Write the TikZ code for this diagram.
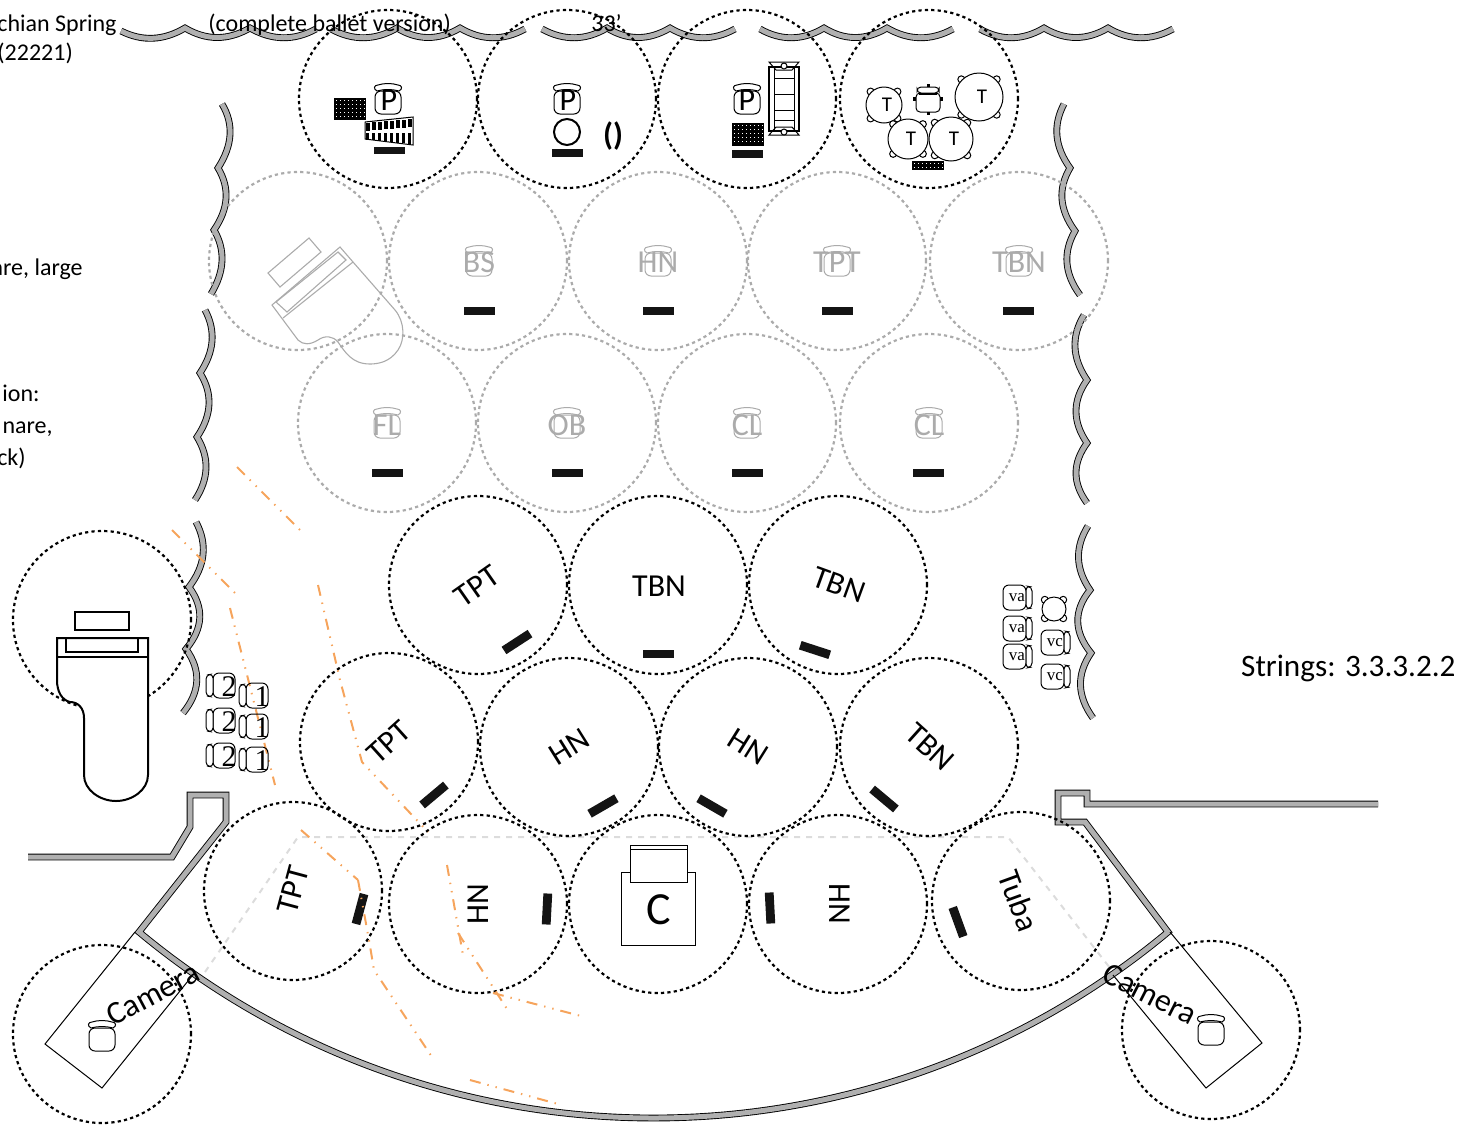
\documentclass[tikz,border=0pt]{standalone}
\usepackage{fontspec}
\setmainfont{Carlito}
\newfontfamily\chairfont{Liberation Serif}
\definecolor{wallgray}{HTML}{B0B0B0}
\definecolor{ghost}{HTML}{ABABAB}
\definecolor{cueline}{HTML}{F6A45C}
\definecolor{sight}{HTML}{DCDCDC}
\newcommand\qarc[6]{.. controls ({#1+2/3*(#3-#1)},{#2+2/3*(#4-#2)}) and ({#5+2/3*(#3-#5)},{#6+2/3*(#4-#6)}) .. (#5,#6)}
\newcommand\jar[4]{%
 \begin{scope}[shift={(#1,#2)},scale=#3,line width=.5pt]
 \draw[#4,rounded corners=3pt] (-13,-8) -- (13,-8) -- (13,15) -- (-13,15) -- cycle;
 \draw[#4,fill=white] (-11,-8) .. controls (-15,-10) and (-14,-14) .. (-10,-14) .. controls (-4,-16) and (4,-16) .. (10,-14) .. controls (14,-14) and (15,-10) .. (11,-8) .. controls (4,-10) and (-4,-10) .. (-11,-8) -- cycle;
 \end{scope}}
\newcommand\gridblock[4]{%
 \fill[black] (#1,#2) rectangle ++(#3,#4);
 \pgfmathtruncatemacro\gw{#3/4-1}\pgfmathtruncatemacro\gh{#4/4-1}
 \foreach \i in {0,...,\gw}{\foreach \j in {0,...,\gh}{\fill[white] (#1+\i*4+1.5,#2+\j*4+1.5) rectangle ++(1.7,1.7);}}}
\newcommand\chairL[4]{% name,x,y,label (back on the left)
 \draw[chairline,rounded corners=3pt] (#2-8,#3-13) -- (#2+14,#3-13) -- (#2+14,#3+12) -- (#2-8,#3+12) -- cycle;
 \draw[chairline,fill=white,rounded corners=2pt] (#2-15,#3-11) -- (#2-8,#3-12) -- (#2-8,#3+11) -- (#2-15,#3+10) -- cycle;
 \node[chairnum] (#1) at (#2+8,#3+1) {#4};}
\newcommand\chairR[4]{% name,x,y,label (back on the right)
 \draw[chairline,rounded corners=3pt] (#2-14,#3-13) -- (#2+9,#3-13) -- (#2+9,#3+12) -- (#2-14,#3+12) -- cycle;
 \draw[chairline,fill=white,rounded corners=2pt] (#2+9,#3-12) -- (#2+15,#3-11) -- (#2+15,#3+10) -- (#2+9,#3+11) -- cycle;
 \node[chairsm] (#1) at (#2,#3) {#4};}
\newcommand\timp[5]{% name,x,y,r,label
 \foreach \a in {45,135,225,315}{\draw[line width=.5pt,fill=white] (#2,#3) ++(\a:#4+1) circle (3.5);}
 \node[timpdrum,minimum size=#4*1pt] (#1) at (#2,#3) {};
 \node[timplabel] (#1t) at (#2+3,#3) {#5};}
\tikzset{
 seat/.style={circle,draw=black,line width=1.1pt,dash pattern=on 1.6pt off 1.6pt,minimum size=89pt,inner sep=0pt},
 ghostseat/.style={seat,draw=ghost},
 wall/.style={draw=black,line width=.45pt,double=wallgray,double distance=2.5pt,miter limit=6},
 stand/.style={rectangle,fill=black!92,minimum width=15.5pt,minimum height=4.4pt,inner sep=0pt},
 partlabel/.style={font=\fontsize{16}{16}\selectfont,inner sep=0pt},
 ghostlabel/.style={partlabel,text=ghost},
 note/.style={font=\fontsize{12}{12}\selectfont,inner sep=0pt},
 chairline/.style={draw=black,line width=.5pt},
 chairnum/.style={font=\chairfont\fontsize{15}{15}\selectfont,inner sep=0pt},
 chairsm/.style={font=\chairfont\fontsize{8.5}{8.5}\selectfont,inner sep=0pt},
 timpdrum/.style={circle,draw=black,line width=.5pt,fill=white,inner sep=0pt},
 timplabel/.style={inner sep=0pt,font=\fontsize{10.5}{10.5}\selectfont},
 cue/.style={draw=cueline,line width=1pt,dash pattern=on 5.5pt off 3.5pt on .7pt off 3.5pt on .7pt off 3.5pt},
 sightline/.style={draw=sight,line width=1pt,dashed},
 outline/.style={draw=black,line width=.5pt},
 pianoline/.style={draw=black,line width=1pt,fill=white},
 ghostpiano/.style={draw=ghost,line width=.55pt,fill=none},
}
\begin{document}
\begin{tikzpicture}[x=0.5pt,y=-0.5pt]
\useasboundingbox (0,0) rectangle (1462,1126);
% riser walls, top
\draw[wall] (121,31) \qarc{121}{31}{153}{47}{185}{28} \qarc{185}{28}{217}{47}{250}{28} \qarc{250}{28}{283}{47}{316}{29};
\draw[wall] (331,29) \qarc{331}{29}{364}{47}{397}{28} \qarc{397}{28}{428}{47}{460}{28} \qarc{460}{28}{492}{47}{525}{29};
\draw[wall] (542,29) \qarc{542}{29}{575}{47}{607}{28} \qarc{607}{28}{638}{47}{670}{28} \qarc{670}{28}{702}{47}{735}{29};
\draw[wall] (760,29) \qarc{760}{29}{792}{47}{824}{28} \qarc{824}{28}{855}{47}{887}{28} \qarc{887}{28}{920}{47}{953}{29};
\draw[wall] (980,29) \qarc{980}{29}{1012}{47}{1044}{28} \qarc{1044}{28}{1076}{47}{1108}{28} \qarc{1108}{28}{1140}{47}{1173}{29};
% riser walls, left
\draw[wall] (222,104) \qarc{222}{104}{240}{134}{218}{168} \qarc{218}{168}{236}{198}{214}{230} \qarc{214}{230}{231.5}{260}{211}{294};
\draw[wall] (205,310) \qarc{205}{310}{221.5}{341}{200}{373} \qarc{200}{373}{219.5}{404}{197}{437} \qarc{197}{437}{216}{468}{195}{500};
\draw[wall] (196,522) \qarc{196}{522}{213.5}{555}{189}{587} \qarc{189}{587}{212}{618}{186}{649} \qarc{186}{649}{209}{681}{183}{713};
% riser walls, right
\draw[wall] (1064,104) \qarc{1064}{104}{1047}{136}{1070}{168} \qarc{1070}{168}{1051.5}{199}{1075}{231} \qarc{1075}{231}{1056.5}{263}{1080}{295};
\draw[wall] (1084,315) \qarc{1084}{315}{1064.5}{347}{1087}{380} \qarc{1087}{380}{1065}{411}{1087}{443} \qarc{1087}{443}{1065}{473}{1087}{503};
\draw[wall] (1088,526) \qarc{1088}{526}{1068}{558}{1090}{590} \qarc{1090}{590}{1065}{621}{1091}{653} \qarc{1091}{653}{1069}{685}{1093}{718};
% stage edge
\draw[wall,miter limit=10] (28,857) -- (172,857) -- (190,827) -- (190,795) -- (226,795) -- (226,822) -- (139,932) .. controls (283,1052) and (465.5,1118) .. (653.5,1118) .. controls (841.5,1118) and (1024,1052) .. (1168,932) -- (1085,822) -- (1058,822) -- (1058,793) -- (1087,793) -- (1087,804) -- (1378,804);
% sight lines
\draw[sightline] (205,972) -- (298,837) -- (1008,837) -- (1110,968);
% seat circles
\node[seat] (s01) at (388,99) {};
\node[seat] (s02) at (567,99) {};
\node[seat] (s03) at (747,99) {};
\node[seat] (s04) at (929,99) {};
\node[ghostseat] (g11) at (298,261) {};
\node[ghostseat] (g12) at (478,261) {};
\node[ghostseat] (g13) at (658,261) {};
\node[ghostseat] (g14) at (837,261) {};
\node[ghostseat] (g15) at (1019,261) {};
\node[ghostseat] (g21) at (387,423) {};
\node[ghostseat] (g22) at (567,423) {};
\node[ghostseat] (g23) at (747,423) {};
\node[ghostseat] (g24) at (929,423) {};
\node[seat] (s31) at (478,585) {};
\node[seat] (s32) at (658,585) {};
\node[seat] (s33) at (838,585) {};
\node[seat] (s41) at (389,742) {};
\node[seat] (s42) at (569,747) {};
\node[seat] (s43) at (748,747) {};
\node[seat] (s44) at (929,747) {};
\node[seat] (s51) at (293,891) {};
\node[seat] (s52) at (478,904) {};
\node[seat] (s53) at (658,904) {};
\node[seat] (s54) at (838,904) {};
\node[seat] (s55) at (1021,901) {};
\node[seat] (camL) at (102,1034) {};
\node[seat] (camR) at (1211,1030) {};
\node[seat] (pno) at (102,620) {};
% camera platforms
\draw[outline] (135,932) -- (45,1044) -- (102,1088) -- (192,976);
\draw[outline] (1170,932) -- (1262,1043) -- (1206,1088) -- (1113,975);
\jar{102}{1036}{1}{black}
\jar{1211}{1030}{1}{black}
% black piano
\draw[pianoline] (57,638) -- (148,638) -- (148,775) .. controls (148,790) and (132,801) .. (116,801) .. controls (100,801) and (84,790) .. (84,775) -- (84,718) .. controls (84,708) and (78,702) .. (70,702) .. controls (62,700) and (57,692) .. (57,680) -- cycle;
\draw[black,line width=1pt] (57,657) -- (148,657);
\draw[black,line width=.8pt] (66,638) -- (66,652) -- (138,652) -- (138,638);
\draw[black,line width=1pt] (75,612) rectangle (129,630);
% grey piano
\draw[ghostpiano] (268,273) -- (309,238) -- (321,252) -- (280,287) -- cycle;
\draw[ghostpiano] (272,305) -- (340,247) -- (353,262) -- (395,310) .. controls (405,322) and (405,340) .. (398,350) .. controls (390,362) and (378,364) .. (370,364) .. controls (352,364) and (345,352) .. (338,342) .. controls (333,336) and (325,335) .. (318,340) .. controls (310,345) and (303,345) .. (298,340) -- cycle;
\draw[ghostpiano] (276,302) -- (338,252) -- (346,260) -- (287,312) -- cycle;
\draw[ghostpiano] (283,318) -- (353,262);
% row 0: percussion
\gridblock{334}{98}{32}{22}
\draw[black,line width=.5pt,fill=white] (365,122) -- (413,117) -- (413,145) -- (365,139) -- cycle;
\foreach \i in {0,...,7}{\fill[black] (366+\i*6,122.5-\i*.5) rectangle ++(4.4,8); \fill[black] (366+\i*6,133) rectangle ++(3.4,6.5+\i*.6);}
\jar{388}{99}{1}{black}
\node[partlabel] (p1) at (389,100) {P};
\node[stand,minimum height=3.5pt] (b01) at (389,150) {};
\jar{567}{99}{1}{black}
\node[partlabel] (p2) at (568,100) {P};
\draw[black,line width=1pt] (567,132) circle (13);
\node[stand] (b02) at (567,153) {};
\node[font=\bfseries\fontsize{16}{16}\selectfont,inner sep=0pt] (paren) at (613,136) {()};
\jar{747}{99}{1}{black}
\node[partlabel] (p3) at (747,100) {P};
\gridblock{732}{123}{32}{23}
\node[stand] (b03) at (747,154) {};
\draw[black,line width=.5pt] (769,62) -- (799,62) -- (792,70) -- (776,70) -- cycle;
\draw[black,line width=.5pt] (769,135) -- (799,135) -- (792,127) -- (776,127) -- cycle;
\draw[black,line width=1.2pt] (769,67) rectangle (799,131);
\draw[black,line width=.5pt] (774,67) rectangle (794,131);
\foreach \ry in {78,94,110,120}{\draw[black,line width=.5pt] (774,\ry) -- (794,\ry);}
\draw[black,line width=.5pt,fill=white] (784,66) circle (3);
\draw[black,line width=.5pt,fill=white] (784,132) circle (3);
% timpani
\timp{t2}{979}{97}{24}{T}
\timp{t1}{884}{105}{18}{T}
\timp{t3}{908}{139}{20}{T}
\timp{t4}{951}{139}{22}{T}
\draw[black,line width=.5pt,fill=white,rounded corners=2pt] (916,93) -- (940,93) -- (940,112) -- (916,112) -- cycle;
\draw[black,line width=.5pt,fill=white,rounded corners=2pt] (917,87) -- (939,87) -- (939,93) -- (917,93) -- cycle;
\draw[black,line width=.8pt] (919,94) -- (937,94);
\fill[black] (927,84) rectangle (930,87);
\fill[black] (927,112) rectangle (930,115);
\fill[black] (913,97) rectangle (916,101);
\fill[black] (940,97) rectangle (943,101);
\gridblock{912}{161}{32}{9}
% row 1
\jar{479}{261}{1}{ghost}
\node[ghostlabel] (l12) at (479,262) {BS};
\node[stand] (b12) at (479,311) {};
\jar{658}{261}{1}{ghost}
\node[ghostlabel] (l13) at (658,262) {HN};
\node[stand] (b13) at (658,311) {};
\jar{837}{261}{1}{ghost}
\node[ghostlabel] (l14) at (837,262) {TPT};
\node[stand] (b14) at (837,311) {};
\jar{1019}{261}{1}{ghost}
\node[ghostlabel] (l15) at (1019,262) {TBN};
\node[stand] (b15) at (1018,311) {};
% row 2
\jar{387}{423}{1}{ghost}
\node[ghostlabel] (l21) at (387,425) {FL};
\node[stand] (b21) at (387,473) {};
\jar{567}{423}{1}{ghost}
\node[ghostlabel] (l22) at (567,425) {OB};
\node[stand] (b22) at (567,473) {};
\jar{747}{423}{1}{ghost}
\node[ghostlabel] (l23) at (747,425) {CL};
\node[stand] (b23) at (747,473) {};
\jar{929}{423}{1}{ghost}
\node[ghostlabel] (l24) at (929,425) {CL};
\node[stand] (b24) at (928,473) {};
% row 3
\node[partlabel,rotate=35] (l31) at (477,586) {TPT};
\node[stand,rotate=33] (b31) at (517,642) {};
\node[partlabel] (l32) at (659,586) {TBN};
\node[stand] (b32) at (658,654) {};
\node[partlabel,rotate=-20] (l33) at (839,585) {TBN};
\node[stand,rotate=-18] (b33) at (815,650) {};
% row 4
\node[partlabel,rotate=42] (l41) at (389,742) {TPT};
\node[stand,rotate=40] (b41) at (434,795) {};
\node[partlabel,rotate=32] (l42) at (569,747) {HN};
\node[stand,rotate=30] (b42) at (603,806) {};
\node[partlabel,rotate=-32] (l43) at (748,747) {HN};
\node[stand,rotate=-30] (b43) at (712,806) {};
\node[partlabel,rotate=-42] (l44) at (930,747) {TBN};
\node[stand,rotate=-40] (b44) at (884,799) {};
% row 5
\node[partlabel,rotate=75] (l51) at (293,890) {TPT};
\node[stand,rotate=75] (b51) at (360,909) {};
\node[partlabel,rotate=90] (l52) at (478,904) {HN};
\node[stand,rotate=87] (b52) at (547,909) {};
\draw[black,line width=.5pt,fill=white] (621,872) rectangle (695,945);
\draw[black,line width=.5pt,fill=white] (630,845) rectangle (687,882);
\draw[black,line width=.5pt] (630,849) -- (687,849);
\node[font=\fontsize{23}{23}\selectfont,inner sep=0pt] (cond) at (659,910) {C};
\node[partlabel,rotate=-90] (l54) at (840,904) {HN};
\node[stand,rotate=-87] (b54) at (770,908) {};
\node[partlabel,rotate=-70] (l55) at (1019,901) {Tuba};
\node[stand,rotate=-70] (b55) at (958,922) {};
% camera labels
\node[partlabel,rotate=28] (cl) at (153,994) {Camera};
\node[partlabel,rotate=-27] (cr) at (1150,994) {Camera};
% cue lines
\draw[cue] (237,467) -- (302,532);
\draw[cue] (172,530) -- (237,595);
\draw[cue] (230,608) -- (275,785);
\draw[cue] (318,585) -- (340,680) -- (362,762) -- (428,832);
\draw[cue] (301,830) -- (358,880);
\draw[cue] (358,880) -- (369,940) -- (374,970) -- (432,1057);
\draw[cue] (447,865) -- (463,955);
\draw[cue] (458,933) -- (509,1012);
\draw[cue] (493,993) -- (581,1016);
\draw[cue] (470,1080) -- (558,1104);
% chairs
\chairL{c21}{221}{686}{2}
\chairL{c22}{221}{721}{2}
\chairL{c23}{221}{756}{2}
\chairL{c11}{254}{696}{1}
\chairL{c12}{254}{727}{1}
\chairL{c13}{254}{760}{1}
\chairR{va1}{1017}{598}{va}
\chairR{va2}{1017}{629}{va}
\chairR{va3}{1017}{657}{va}
\chairR{vc1}{1055}{643}{vc}
\chairR{vc2}{1055}{677}{vc}
\timp{bass}{1054}{609}{12}{}
% printed notes
\node[note,anchor=base east] (n1) at (117,31) {chian Spring};
\node[note,anchor=base west] (n2) at (-3,60) {(22221)};
\node[note,anchor=base east] (n3) at (83,275) {are, large};
\node[note,anchor=base east] (n4) at (40,401) {ion:};
\node[note,anchor=base east] (n5) at (53,433) {nare,};
\node[note,anchor=base east] (n6) at (26,465) {ck)};
\node[note,anchor=base west] (n7) at (208,31) {(complete ballet version)};
\node[note,anchor=base west] (n8) at (591,31) {33'};
\node[font=\fontsize{15.6}{15.6}\selectfont,inner sep=0pt,anchor=base east] (n9) at (1456,676) {Strings: 3.3.3.2.2};
\end{tikzpicture}
\end{document}
